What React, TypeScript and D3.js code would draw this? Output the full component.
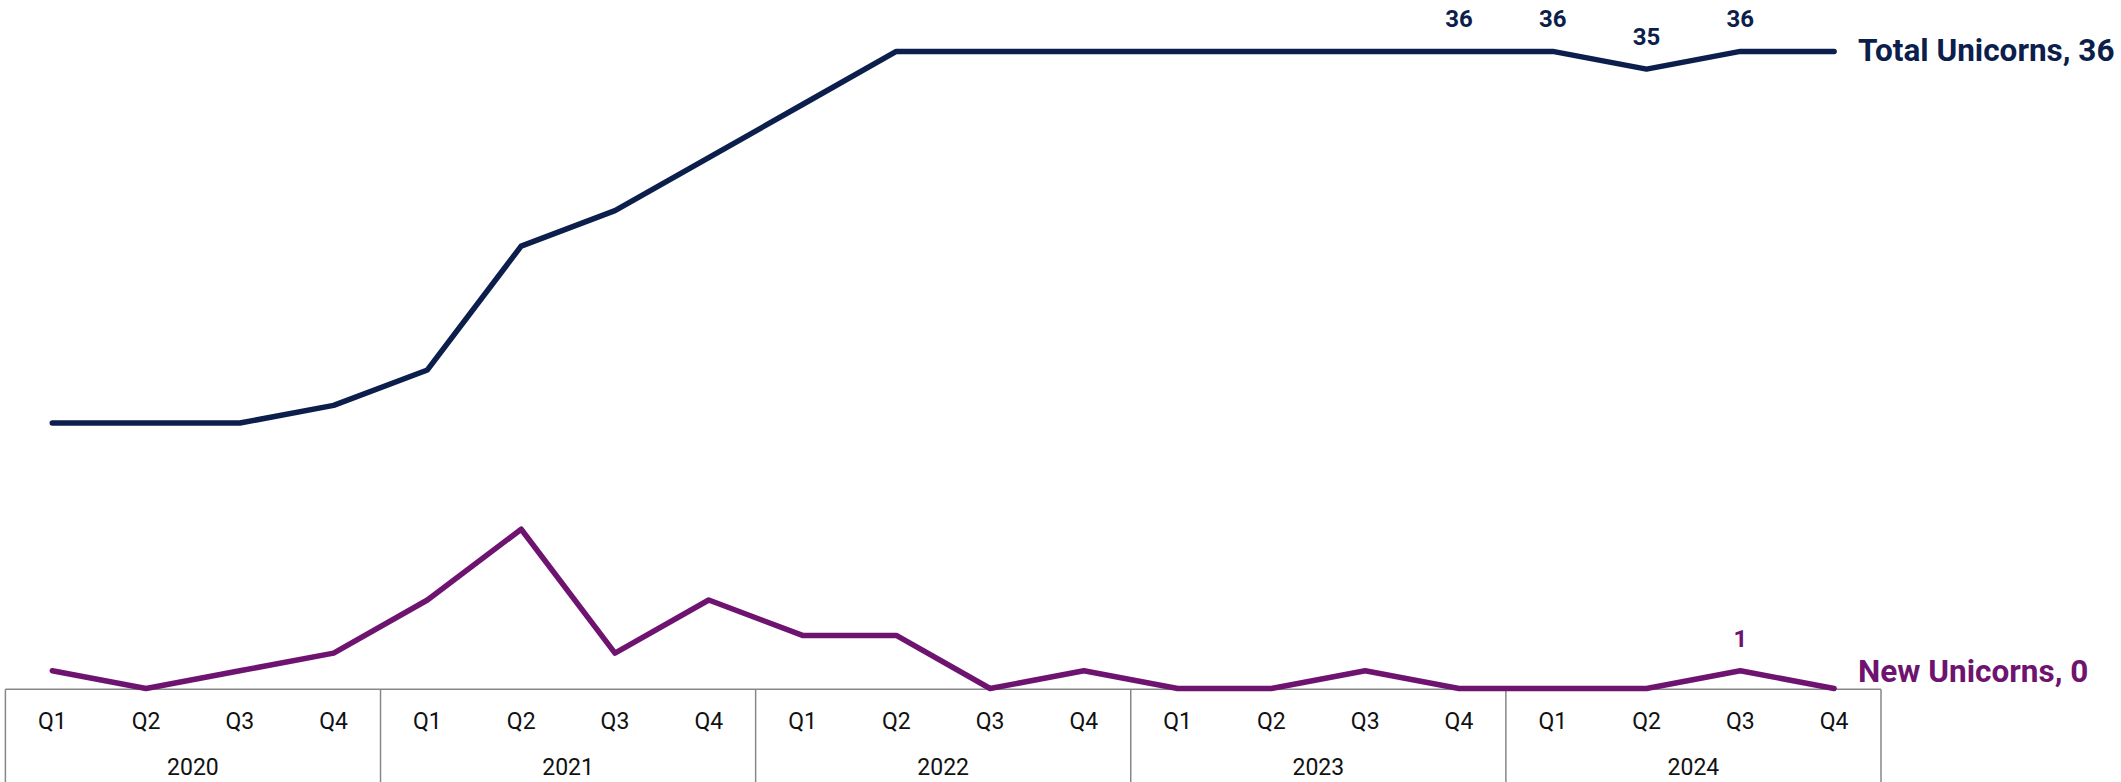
import React from "react";
import * as d3 from "d3";

const years = ["2020", "2021", "2022", "2023", "2024"];
const quarters = ["Q1", "Q2", "Q3", "Q4"];
const totalUnicorns = [15, 15, 15, 16, 18, 25, 27, 30, 33, 36, 36, 36, 36, 36, 36, 36, 36, 35, 36, 36];
const newUnicorns = [1, 0, 1, 2, 5, 9, 2, 5, 3, 3, 0, 1, 0, 0, 1, 0, 0, 0, 1, 0];
const totalLabelIdx = [15, 16, 17, 18];
const newLabelIdx = [18];

const W = 2121;
const H = 782;
const NAVY = "#0C1E4B";
const PURPLE = "#6E1470";
const GREY = "#85888b";
const FONT = "Roboto, 'Noto Sans', sans-serif";

export default function App() {
  const categories = years.flatMap((y) => quarters.map((q) => `${y} ${q}`));
  const x = d3.scaleBand<string>().domain(categories).range([5.4, 1881]).padding(0);
  const cx = (i: number) => (x(categories[i]) as number) + x.bandwidth() / 2;
  const y = d3.scaleLinear().domain([0, 36]).range([688.5, 51.4]);

  const line = d3
    .line<number>()
    .x((_, i) => cx(i))
    .y((d) => y(d));

  const axisTop = y(0) + 0.8;
  const yearW = x.bandwidth() * 4;

  return (
    <svg
      width={W}
      height={H}
      style={{ position: "absolute", left: 0, top: 0, background: "#fff" }}
      fontFamily={FONT}
    >
      {/* category axis box */}
      <line x1={5.4} x2={1881} y1={axisTop} y2={axisTop} stroke={GREY} strokeWidth={1.5} />
      {d3.range(years.length + 1).map((k) => {
        const xx = 5.4 + k * yearW;
        return <line key={"v" + k} x1={xx} x2={xx} y1={axisTop} y2={H} stroke={GREY} strokeWidth={1.5} />;
      })}
      {categories.map((c, i) => (
        <text key={"q" + i} x={cx(i)} y={729} textAnchor="middle" fontSize={23} fill="#111">
          {quarters[i % 4]}
        </text>
      ))}
      {years.map((yr, k) => (
        <text key={"y" + k} x={5.4 + k * yearW + yearW / 2} y={775} textAnchor="middle" fontSize={23} fill="#111">
          {yr}
        </text>
      ))}

      {/* lines */}
      <path d={line(newUnicorns) || ""} fill="none" stroke={PURPLE} strokeWidth={5.5} strokeLinejoin="round" strokeLinecap="round" />
      <path d={line(totalUnicorns) || ""} fill="none" stroke={NAVY} strokeWidth={5.5} strokeLinejoin="round" strokeLinecap="round" />

      {/* data labels */}
      {totalLabelIdx.map((i) => (
        <text key={"tl" + i} x={cx(i)} y={y(totalUnicorns[i]) - 24} textAnchor="middle" fontSize={24} fontWeight={700} fill={NAVY}>
          {totalUnicorns[i]}
        </text>
      ))}
      {newLabelIdx.map((i) => (
        <text key={"nl" + i} x={cx(i)} y={y(newUnicorns[i]) - 24} textAnchor="middle" fontSize={24} fontWeight={700} fill={PURPLE}>
          {newUnicorns[i]}
        </text>
      ))}

      {/* end labels */}
      <text x={cx(19) + 24} y={y(totalUnicorns[19]) + 10} fontSize={31.5} fontWeight={700} fill={NAVY}>
        {`Total Unicorns, ${totalUnicorns[19]}`}
      </text>
      <text x={cx(19) + 24} y={y(newUnicorns[19]) - 7} fontSize={31.5} fontWeight={700} fill={PURPLE}>
        {`New Unicorns, ${newUnicorns[19]}`}
      </text>
    </svg>
  );
}
